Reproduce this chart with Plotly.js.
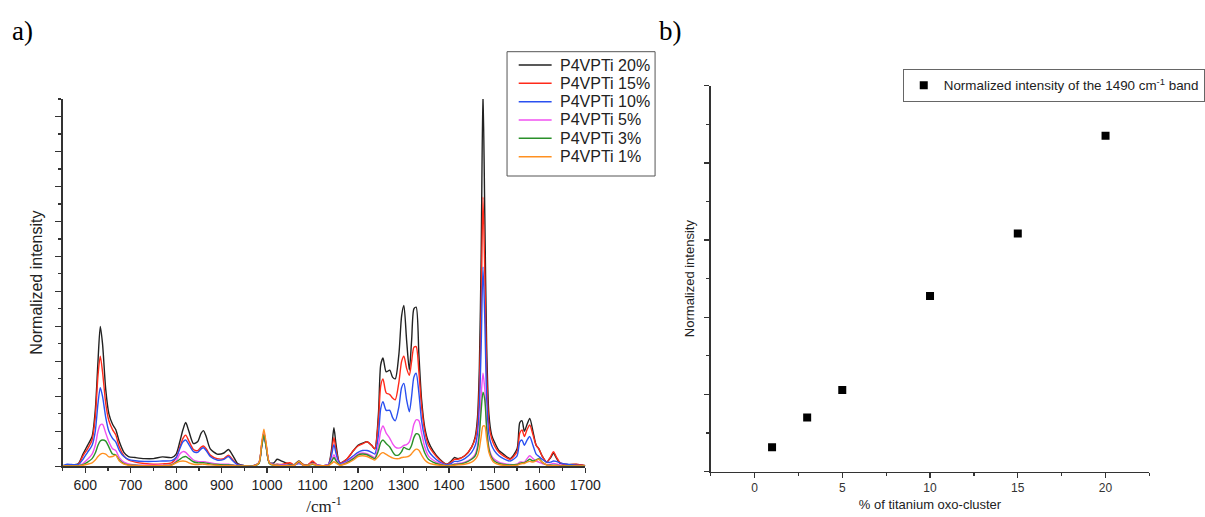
<!DOCTYPE html>
<html>
<head>
<meta charset="utf-8">
<script src="https://cdn.plot.ly/plotly-3.0.1.min.js"></script>
<style>html,body{margin:0;padding:0;background:#fff;}#chart{width:1205px;height:517px;}</style>
</head>
<body>
<div id="chart"></div>
<script>
// ---- Data (panel a: Raman spectra) ----
const wavenumber = [550,560,570,585,595,605,615,622,628,633,
638,645,652,660,667,675,685,695,710,730,
750,770,790,800,808,815,821,828,838,847,
855,860,866,875,890,905,915,925,935,950,
970,982,988,993,998,1005,1015,1022,1032,1050,
1060,1070,1080,1090,1100,1110,1125,1135,1142,1147,
1152,1160,1175,1190,1200,1210,1220,1230,1237,1245,
1250,1255,1262,1270,1276,1282,1290,1296,1301,1307,
1313,1318,1323,1328,1334,1340,1347,1355,1365,1380,
1395,1405,1412,1420,1435,1450,1458,1463,1467,1471,
1475,1479,1483,1488,1494,1500,1510,1520,1535,1550,
1556,1561,1566,1572,1578,1585,1592,1598,1605,1615,
1624,1630,1636,1645,1660,1680,1700];

const ti20 = [0.02,0.02,0.03,0.08,0.35,0.6,0.85,1.6,3.0,4.0,
3.5,2.2,1.5,1.2,1.05,0.7,0.4,0.28,0.25,0.22,
0.22,0.27,0.25,0.35,0.7,1.05,1.25,1.0,0.65,0.7,
0.95,1.02,0.85,0.5,0.35,0.38,0.48,0.3,0.08,0.02,
0.02,0.1,0.6,0.95,0.6,0.1,0.1,0.2,0.15,0.06,
0.05,0.15,0.05,0.04,0.12,0.04,0.02,0.05,0.5,1.1,
0.6,0.1,0.2,0.45,0.6,0.66,0.7,0.6,0.5,1.5,
2.9,3.1,2.7,2.75,2.55,2.5,3.2,4.3,4.6,3.6,
2.75,3.6,4.5,4.55,3.2,1.9,1.1,0.7,0.45,0.2,
0.06,0.15,0.25,0.22,0.3,0.55,0.85,1.4,2.8,6.0,
10.8,7.2,3.5,1.5,0.9,0.7,0.45,0.35,0.22,0.5,
1.25,1.3,1.0,1.2,1.37,1.0,0.6,0.5,0.3,0.12,
0.25,0.38,0.25,0.08,0.05,0.05,0.02];

const ti15 = [0.02,0.02,0.02,0.06,0.3,0.5,0.75,1.4,2.6,3.15,
2.7,1.8,1.3,1.05,0.9,0.55,0.3,0.18,0.12,0.08,
0.06,0.07,0.1,0.25,0.55,0.8,0.89,0.72,0.48,0.45,
0.55,0.58,0.5,0.32,0.22,0.22,0.32,0.18,0.05,0.02,
0.02,0.1,0.6,0.95,0.6,0.1,0.05,0.06,0.05,0.1,
0.04,0.12,0.05,0.05,0.15,0.04,0.02,0.05,0.4,0.82,
0.45,0.1,0.2,0.45,0.58,0.64,0.7,0.6,0.5,1.3,
2.3,2.5,2.1,2.05,1.95,1.9,2.4,3.0,3.15,2.8,
2.6,3.0,3.4,3.42,2.7,1.7,1.0,0.6,0.4,0.18,
0.05,0.12,0.2,0.2,0.3,0.55,0.8,1.2,2.2,4.5,
7.7,5.5,2.7,1.2,0.8,0.6,0.4,0.3,0.2,0.42,
0.95,1.04,0.85,1.05,1.18,0.9,0.6,0.5,0.3,0.12,
0.28,0.42,0.28,0.1,0.05,0.06,0.02];

const ti10 = [0.02,0.06,0.05,0.05,0.2,0.4,0.6,1.0,1.8,2.25,
2.0,1.4,1.0,0.8,0.7,0.45,0.28,0.2,0.16,0.14,
0.14,0.15,0.16,0.25,0.5,0.7,0.75,0.62,0.42,0.4,
0.5,0.53,0.45,0.28,0.18,0.2,0.28,0.15,0.04,0.02,
0.02,0.1,0.55,0.88,0.55,0.1,0.05,0.05,0.04,0.03,
0.03,0.08,0.03,0.03,0.08,0.03,0.02,0.05,0.32,0.62,
0.35,0.08,0.15,0.3,0.4,0.45,0.45,0.4,0.35,0.9,
1.65,1.85,1.6,1.6,1.4,1.3,1.7,2.25,2.37,1.9,
1.56,2.0,2.55,2.66,2.1,1.3,0.8,0.45,0.28,0.12,
0.04,0.08,0.14,0.14,0.22,0.4,0.6,0.95,1.7,3.4,
5.7,4.2,2.0,0.9,0.6,0.45,0.3,0.22,0.15,0.3,
0.7,0.75,0.6,0.75,0.85,0.6,0.35,0.28,0.2,0.12,
0.12,0.15,0.14,0.1,0.06,0.03,0.02];

const ti5 = [0.01,0.01,0.01,0.02,0.08,0.2,0.35,0.6,1.0,1.18,
1.2,0.95,0.7,0.5,0.45,0.25,0.12,0.07,0.04,0.03,
0.03,0.03,0.05,0.15,0.35,0.42,0.4,0.3,0.18,0.14,
0.13,0.13,0.12,0.1,0.07,0.06,0.06,0.04,0.02,0.01,
0.01,0.1,0.6,0.98,0.6,0.1,0.04,0.04,0.03,0.03,
0.03,0.1,0.03,0.03,0.08,0.03,0.02,0.04,0.18,0.33,
0.2,0.05,0.12,0.25,0.35,0.38,0.36,0.3,0.25,0.6,
1.0,1.15,0.95,0.8,0.65,0.55,0.52,0.55,0.6,0.62,
0.7,0.9,1.2,1.33,1.3,0.95,0.55,0.3,0.18,0.08,
0.02,0.04,0.07,0.08,0.12,0.22,0.35,0.6,1.1,2.0,
2.66,2.2,1.2,0.55,0.3,0.2,0.12,0.08,0.05,0.06,
0.12,0.12,0.12,0.22,0.3,0.22,0.15,0.12,0.08,0.05,
0.06,0.08,0.07,0.04,0.02,0.02,0.01];

const ti3 = [0.01,0.01,0.01,0.02,0.05,0.12,0.22,0.38,0.6,0.72,
0.75,0.72,0.55,0.35,0.33,0.18,0.08,0.04,0.03,0.02,
0.02,0.02,0.04,0.12,0.2,0.26,0.28,0.22,0.13,0.1,
0.1,0.1,0.09,0.07,0.05,0.04,0.04,0.03,0.02,0.01,
0.01,0.08,0.55,0.9,0.55,0.08,0.03,0.03,0.02,0.03,
0.03,0.12,0.03,0.03,0.06,0.02,0.02,0.03,0.14,0.25,
0.15,0.04,0.1,0.22,0.32,0.35,0.33,0.26,0.22,0.45,
0.68,0.75,0.65,0.55,0.42,0.32,0.33,0.42,0.54,0.5,
0.48,0.6,0.82,0.93,0.9,0.65,0.38,0.2,0.12,0.05,
0.02,0.03,0.05,0.06,0.1,0.2,0.3,0.5,0.9,1.6,
2.12,1.9,1.1,0.5,0.25,0.15,0.08,0.05,0.04,0.05,
0.08,0.1,0.1,0.15,0.2,0.15,0.18,0.22,0.12,0.04,
0.03,0.03,0.03,0.02,0.02,0.01,0.01];

const ti1 = [0.01,0.01,0.01,0.01,0.03,0.06,0.1,0.18,0.28,0.34,
0.37,0.35,0.27,0.28,0.32,0.15,0.06,0.03,0.02,0.02,
0.02,0.02,0.03,0.1,0.14,0.15,0.14,0.1,0.06,0.05,
0.06,0.06,0.05,0.04,0.03,0.02,0.02,0.02,0.01,0.01,
0.01,0.1,0.65,1.06,0.65,0.1,0.03,0.03,0.02,0.02,
0.03,0.14,0.03,0.03,0.07,0.02,0.02,0.02,0.08,0.13,
0.09,0.03,0.08,0.18,0.28,0.3,0.28,0.22,0.18,0.28,
0.36,0.39,0.34,0.28,0.24,0.22,0.22,0.25,0.26,0.27,
0.3,0.36,0.44,0.49,0.46,0.32,0.18,0.1,0.06,0.03,
0.01,0.02,0.03,0.04,0.06,0.12,0.2,0.3,0.5,0.85,
1.15,1.15,0.8,0.4,0.2,0.1,0.05,0.03,0.02,0.03,
0.06,0.08,0.08,0.12,0.14,0.12,0.16,0.2,0.12,0.04,
0.02,0.02,0.02,0.01,0.01,0.01,0.01];

const seriesNames = ["P4VPTi 20%","P4VPTi 15%","P4VPTi 10%","P4VPTi 5%","P4VPTi 3%","P4VPTi 1%"];
const seriesValues = [ti20, ti15, ti10, ti5, ti3, ti1];
const seriesColors = ["#222222","#ff2a1a","#2a50f0","#f050f0","#2a902a","#ff9020"];

// ---- Data (panel b) ----
const clusterPercent = [1, 3, 5, 10, 15, 20];
const bandIntensity = [0.63, 1.40, 2.11, 4.55, 6.17, 8.70];

// ---- Layout helpers (pixels -> paper) ----
const W = 1205, H = 517;
const px = v => v / W;
const py = v => 1 - v / H;

const traces = seriesValues.map((vals, i) => ({
  type: 'scatter', mode: 'lines', x: wavenumber, y: vals, name: seriesNames[i],
  xaxis: 'x', yaxis: 'y', showlegend: false,
  line: {color: seriesColors[i], width: 1.4, shape: 'spline', smoothing: 0.7}
}));

traces.push({
  type: 'scatter', mode: 'markers', x: clusterPercent, y: bandIntensity,
  name: 'Normalized intensity of the 1490 cm<sup>-1</sup> band',
  xaxis: 'x2', yaxis: 'y2', showlegend: true,
  marker: {symbol: 'square', size: 8, color: '#000'}
});

// manual legend for panel a
const legShapes = [];
const legAnn = [];
const legRows = [65, 83.3, 101.7, 120, 138.3, 156.7];
legShapes.push({type: 'rect', xref: 'paper', yref: 'paper', x0: px(508.3), x1: px(656.7), y0: py(176), y1: py(51.7),
  line: {color: '#555', width: 1}, fillcolor: 'rgba(0,0,0,0)'});
legRows.forEach((r, i) => {
  legShapes.push({type: 'line', xref: 'paper', yref: 'paper', x0: px(520), x1: px(553), y0: py(r), y1: py(r),
    line: {color: seriesColors[i], width: 1.4}});
  legAnn.push({xref: 'paper', yref: 'paper', x: px(559), y: py(r), xanchor: 'left', yanchor: 'middle',
    text: seriesNames[i], showarrow: false, font: {family: 'Arial, Liberation Sans', size: 16, color: '#222'}});
});

legAnn.push({xref: 'paper', yref: 'paper', x: px(23), y: py(31), xanchor: 'center', yanchor: 'middle',
  text: 'a)', showarrow: false, font: {family: 'Times New Roman, Liberation Serif', size: 27, color: '#000'}});
legAnn.push({xref: 'paper', yref: 'paper', x: px(672), y: py(31), xanchor: 'center', yanchor: 'middle',
  text: 'b)', showarrow: false, font: {family: 'Times New Roman, Liberation Serif', size: 27, color: '#000'}});

const axisCol = '#333';
const layout = {
  width: W, height: H,
  margin: {l: 0, r: 0, t: 0, b: 0},
  paper_bgcolor: '#fff', plot_bgcolor: '#fff',
  showlegend: true,
  font: {family: 'Arial, Liberation Sans', color: '#222'},
  xaxis: {
    domain: [px(62.7), px(586.7)], range: [550, 1700], anchor: 'y',
    showline: true, linecolor: axisCol, linewidth: 1.5, zeroline: false, showgrid: false,
    ticks: 'outside', ticklen: 5, tickwidth: 1.3, tickcolor: axisCol,
    tickvals: [600,700,800,900,1000,1100,1200,1300,1400,1500,1600,1700],
    minor: {tickvals: [550,650,750,850,950,1050,1150,1250,1350,1450,1550,1650], ticks: 'outside', ticklen: 3, tickcolor: axisCol, tickwidth: 1.2},
    tickfont: {size: 14, family: 'Arial, Liberation Sans', color: '#222'},
    title: {text: '/cm<sup>-1</sup>', font: {family: 'Times New Roman, Liberation Serif', size: 17, color: '#222'}, standoff: 8}
  },
  yaxis: {
    domain: [1 - 466.3 / H, 1 - 99 / H], range: [0, 10.5], anchor: 'x',
    showline: true, linecolor: axisCol, linewidth: 1.5, zeroline: false, showgrid: false,
    ticks: 'outside', ticklen: 6, tickwidth: 1.3, tickcolor: axisCol, dtick: 1, tick0: 0,
    minor: {dtick: 0.5, ticks: 'outside', ticklen: 3, tickcolor: axisCol, tickwidth: 1.2},
    showticklabels: false,
    title: {text: 'Normalized intensity', font: {size: 16, family: 'Arial, Liberation Sans', color: '#222'}, standoff: 8}
  },
  xaxis2: {
    domain: [px(712.4), px(1152.3)], range: [-2.5, 22.5], anchor: 'y2',
    showline: true, linecolor: axisCol, linewidth: 1.5, zeroline: false, showgrid: false,
    ticks: 'outside', ticklen: 5, tickwidth: 1.3, tickcolor: axisCol, dtick: 5, tick0: 0,
    minor: {dtick: 2.5, ticks: 'outside', ticklen: 3, tickcolor: axisCol, tickwidth: 1.2},
    tickfont: {size: 12, family: 'Arial, Liberation Sans', color: '#333'},
    title: {text: '% of titanium oxo-cluster', font: {size: 13, family: 'Arial, Liberation Sans', color: '#222'}, standoff: 5}
  },
  yaxis2: {
    domain: [1 - 471.5 / H, 1 - 85.7 / H], range: [0, 10], anchor: 'x2',
    showline: true, linecolor: axisCol, linewidth: 1.5, zeroline: false, showgrid: false,
    ticks: 'outside', ticklen: 5, tickwidth: 1.3, tickcolor: axisCol, dtick: 2, tick0: 0,
    minor: {dtick: 1, ticks: 'outside', ticklen: 3, tickcolor: axisCol, tickwidth: 1.2},
    showticklabels: false,
    title: {text: 'Normalized intensity', font: {size: 13, family: 'Arial, Liberation Sans', color: '#222'}, standoff: 6}
  },
  legend: {
    x: px(905), y: py(69), xanchor: 'left', yanchor: 'top',
    bordercolor: '#666', borderwidth: 1, bgcolor: '#fff',
    font: {size: 13.4, family: 'Arial, Liberation Sans', color: '#222'},
    itemwidth: 30
  },
  shapes: legShapes,
  annotations: legAnn
};

Plotly.newPlot('chart', traces, layout, {displayModeBar: false, staticPlot: true});
</script>
</body>
</html>
